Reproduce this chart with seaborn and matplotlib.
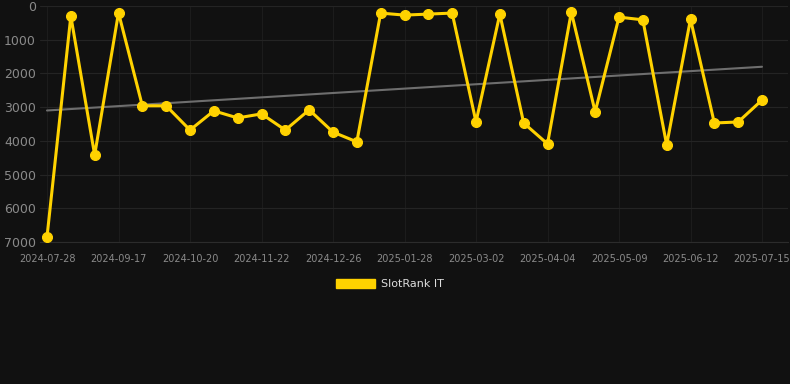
import numpy as np
import pandas as pd
import matplotlib
matplotlib.use("Agg")
import matplotlib.pyplot as plt
import seaborn as sns
from matplotlib.patches import Patch

# Data (categorical x positions; every third point carries a date label)
point_index = list(range(31))
rank_values = [6850, 300, 4420, 200, 2960, 2960, 3680, 3110, 3320, 3200,
               3680, 3080, 3740, 4030, 210, 270, 240, 210, 3440, 240,
               3470, 4090, 180, 3140, 330, 410, 4120, 390, 3470, 3440, 2790]
tick_positions = [0, 3, 6, 9, 12, 15, 18, 21, 24, 27, 30]
tick_labels = ["2024-07-28", "2024-09-17", "2024-10-20", "2024-11-22", "2024-12-26",
               "2025-01-28", "2025-03-02", "2025-04-04", "2025-05-09", "2025-06-12",
               "2025-07-15"]
y_ticks = [0, 1000, 2000, 3000, 4000, 5000, 6000, 7000]
series_name = "SlotRank IT"

df = pd.DataFrame({"idx": point_index, "rank": rank_values, "series": series_name})

sns.set_style("dark")
plt.rcParams["font.family"] = ["DejaVu Sans"]

BG = "#111111"
GOLD = "#FFD200"
fig = plt.figure(figsize=(7.9, 3.84), dpi=100, facecolor=BG)
W, H = 790, 384
ax = fig.add_axes([40 / W, 1 - 242 / H, (788 - 40) / W, (242 - 6) / H])
ax.set_facecolor(BG)

# trend line (least squares)
coef = np.polyfit(point_index, rank_values, 1)
trend = np.polyval(coef, point_index)
sns.lineplot(x=point_index, y=trend, ax=ax, color="#6e6e6e", linewidth=1.5, zorder=2, legend=False)

sns.lineplot(data=df, x="idx", y="rank", ax=ax, color=GOLD, linewidth=2.2,
             marker="o", markersize=7.2, markeredgecolor=GOLD, zorder=3, legend=False)

px_per_idx = (762 - 47) / 30
x0 = 0 - (47 - 40) / px_per_idx
x1 = 30 + (788 - 762) / px_per_idx
ax.set_xlim(x0, x1)
ax.set_ylim(7000, 0)

ax.set_xticks(tick_positions)
ax.set_xticklabels(tick_labels)
ax.set_yticks(y_ticks)
ax.set_yticklabels([str(v) for v in y_ticks])
ax.tick_params(axis="x", colors="#8a8a8a", labelsize=7, length=0, pad=9)
ax.tick_params(axis="y", colors="#8a8a8a", labelsize=9, length=0, pad=3)
ax.set_xlabel("")
ax.set_ylabel("")

ax.grid(False)
ax.yaxis.grid(True, color="#242424", linewidth=0.8)
ax.xaxis.grid(True, color="#1c1c1c", linewidth=0.8)
for s in ["top", "right", "left"]:
    ax.spines[s].set_visible(False)
ax.spines["bottom"].set_color("#2c2c2c")
ax.spines["bottom"].set_linewidth(0.8)

handles = [Patch(facecolor=GOLD, edgecolor=GOLD, label=series_name)]
leg = fig.legend(handles=handles, loc="center", bbox_to_anchor=(390 / W, 1 - 284 / H),
                 frameon=False, fontsize=8, handlelength=3.5, handleheight=0.9,
                 handletextpad=0.6)
for t in leg.get_texts():
    t.set_color("#dddddd")

fig.savefig("out.png", dpi=100, facecolor=BG)
